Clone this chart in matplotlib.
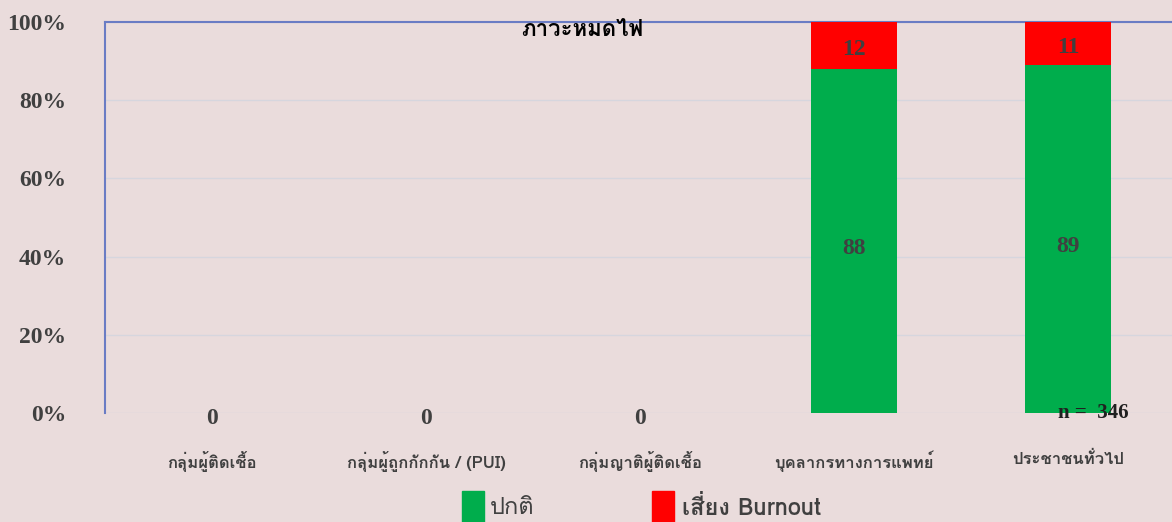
import matplotlib
matplotlib.use("Agg")
import matplotlib.pyplot as plt
from matplotlib import font_manager
from matplotlib.ft2font import FT2Font
import numpy as np

categories = ["กลุ่มผู้ติดเชื้อ", "กลุ่มผู้ถูกกักกัน / (PUI)", "กลุ่มญาติผู้ติดเชื้อ",
              "บุคลากรทางการแพทย์", "ประชาชนทั่วไป"]
normal = [0, 0, 0, 88, 89]
burnout = [0, 0, 0, 12, 11]
yticks = [0, 20, 40, 60, 80, 100]
title = "ภาวะหมดไฟ"
n_text = "n =  346"


# หาฟอนต์ที่มีอักษรไทย
def find_thai_font():
    found = []
    for f in font_manager.fontManager.ttflist:
        try:
            ft = FT2Font(f.fname)
            if ft.get_char_index(ord("ก")) != 0:
                found.append(f.name)
        except Exception:
            pass
    return found

thai = find_thai_font()
fam = thai[:1] + ["Liberation Serif", "DejaVu Sans"]
plt.rcParams["font.family"] = fam

bg = "#eadcdc"
green = "#00ad4c"
red = "#ff0000"
txt = "#404040"
num_font = ["Liberation Serif"]

fig = plt.figure(figsize=(11.72, 5.22), dpi=100)
fig.patch.set_facecolor(bg)
ax = fig.add_axes([105 / 1172, 109 / 522, 1070 / 1172, 391 / 522])
ax.set_facecolor(bg)

x = np.arange(len(categories))
ax.bar(x, normal, width=0.4, color=green, zorder=3)
ax.bar(x, burnout, width=0.4, bottom=normal, color=red, zorder=3)

ax.set_xlim(-0.5, 4.5)
ax.set_ylim(0, 100)
ax.set_yticks(yticks)
ax.set_yticklabels([f"{v}%" for v in yticks], fontsize=17, fontweight="bold",
                   color=txt, family=num_font)
ax.yaxis.grid(True, color="#d6d6de", lw=1, zorder=0)
ax.set_xticks(x)
ax.set_xticklabels(categories, fontsize=12, color=txt, fontweight="bold")
ax.tick_params(axis="x", length=0, pad=27)
ax.tick_params(axis="y", length=0, pad=28)

for s in ["right", "bottom"]:
    ax.spines[s].set_visible(False)
for s in ["left", "top"]:
    ax.spines[s].set_color("#6a7cc4")
    ax.spines[s].set_linewidth(1.5)

# ป้ายค่า
for i in x:
    if normal[i] == 0:
        ax.text(i, -1.5, "0", ha="center", va="center", fontsize=17, fontweight="bold",
                color=txt, family=num_font)
    else:
        ax.text(i, normal[i] / 2 - 2, str(normal[i]), ha="center", va="center",
                fontsize=17, fontweight="bold", color=txt, family=num_font)
        ax.text(i, normal[i] + burnout[i] / 2 - 1, str(burnout[i]), ha="center",
                va="center", fontsize=17, fontweight="bold", color=txt, family=num_font)

ax.text(4.12, 0, n_text, ha="center", va="center", fontsize=15, fontweight="bold",
        color="#202020", family=num_font)
ax.text(0.446, 0.98, title, transform=ax.transAxes, ha="center", va="center",
        fontsize=16, fontweight="bold", color="black")

# คำอธิบาย
fig.patches.append(plt.Rectangle((462 / 1172, 0), 22 / 1172, 31 / 522,
                                 color=green, transform=fig.transFigure))
fig.text(490 / 1172, 14 / 522, "ปกติ", fontsize=17, color=txt, va="center")
fig.patches.append(plt.Rectangle((652 / 1172, 0), 22 / 1172, 31 / 522,
                                 color=red, transform=fig.transFigure))
fig.text(682 / 1172, 14 / 522, "เสี่ยง Burnout", fontsize=17, color=txt, va="center",
         fontweight="bold")

fig.savefig("out.png", dpi=100, facecolor=bg)
